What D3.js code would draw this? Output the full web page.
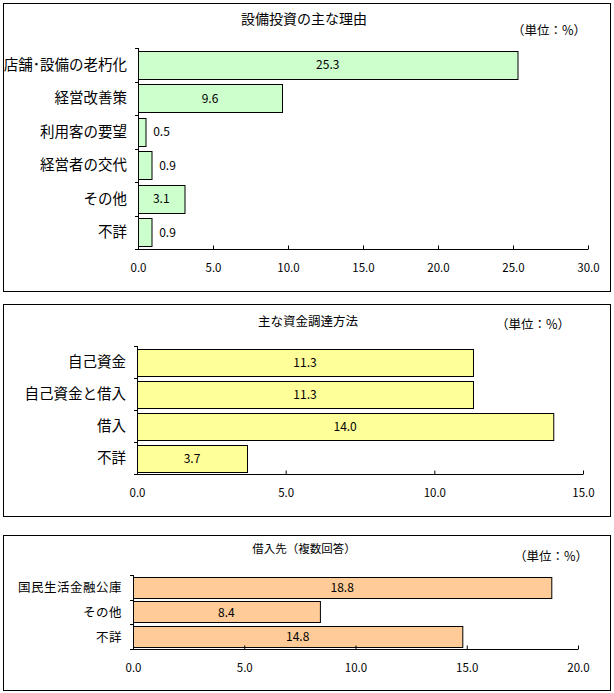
<!DOCTYPE html>
<html>
<head>
<meta charset="utf-8">
<script src="https://cdn.jsdelivr.net/npm/d3@7"></script>
<style>
  body { margin: 0; background: #fff; }
  text { font-family: "Noto Sans CJK JP", "Noto Sans", sans-serif; font-weight: 400; fill: #000; }
</style>
</head>
<body>
<svg id="chart" width="614" height="693"></svg>
<script>
// 設備投資の主な理由
var reasonCats = ["店舗･設備の老朽化", "経営改善策", "利用客の要望", "経営者の交代", "その他", "不詳"];
var reasonVals = [25.3, 9.6, 0.5, 0.9, 3.1, 0.9];
var reasonTicks = [0, 5, 10, 15, 20, 25, 30];

// 主な資金調達方法
var fundCats = ["自己資金", "自己資金と借入", "借入", "不詳"];
var fundVals = [11.3, 11.3, 14.0, 3.7];
var fundTicks = [0, 5, 10, 15];

// 借入先（複数回答）
var lenderCats = ["国民生活金融公庫", "その他", "不詳"];
var lenderVals = [18.8, 8.4, 14.8];
var lenderTicks = [0, 5, 10, 15, 20];

var svg = d3.select("#chart");

function panel(opt) {
  var g = svg.append("g");
  // frame
  g.append("rect")
    .attr("x", 3.5).attr("y", opt.box[0] + 0.5)
    .attr("width", 607).attr("height", opt.box[1] - opt.box[0])
    .attr("fill", "none").attr("stroke", "#000").attr("stroke-width", 1);

  g.append("text")
    .attr("x", opt.titleX).attr("y", opt.titleY)
    .attr("text-anchor", "middle")
    .style("font-size", opt.titleSize + "px")
    .text(opt.title);

  g.append("text")
    .attr("x", opt.unitX).attr("y", opt.unitY)
    .style("font-size", "12.5px")
    .text("（単位：%）");

  var x = d3.scaleLinear().domain([0, opt.max]).range([opt.x0, opt.x1]);
  var y = d3.scaleBand().domain(opt.cats).range([opt.top, opt.bottom])
    .paddingInner(opt.pad).paddingOuter(opt.pad / 2);

  // bars
  g.selectAll("rect.bar")
    .data(opt.vals)
    .join("rect")
    .attr("class", "bar")
    .attr("x", x(0) + 0.5)
    .attr("y", function (d, i) { return Math.round(y(opt.cats[i])) + 0.5; })
    .attr("width", function (d) { return x(d) - x(0); })
    .attr("height", Math.round(y.bandwidth()))
    .attr("fill", opt.color)
    .attr("stroke", "#000")
    .attr("stroke-width", 1);

  // value labels
  g.selectAll("text.val")
    .data(opt.vals)
    .join("text")
    .attr("class", "val")
    .attr("x", function (d) {
      var w = x(d) - x(0);
      return w < 20 ? x(d) + 16 : x(0) + w / 2;
    })
    .attr("y", function (d, i) { return y(opt.cats[i]) + y.bandwidth() / 2 + 4.5; })
    .attr("text-anchor", "middle")
    .style("font-size", "12px")
    .text(function (d) { return d.toFixed(1); });

  // category labels
  g.selectAll("text.cat")
    .data(opt.cats)
    .join("text")
    .attr("class", "cat")
    .attr("x", opt.x0 - 11)
    .attr("y", function (d) { return y(d) + y.bandwidth() / 2 + 5; })
    .attr("text-anchor", "end")
    .style("font-size", opt.catSize + "px")
    .style("letter-spacing", opt.catSpacing + "px")
    .text(function (d) { return d; });

  // y axis with ticks at band edges
  var edges = opt.cats.map(function (c) { return y(c) - y.step() * opt.pad / 2; });
  edges.push(opt.bottom);
  g.append("line")
    .attr("x1", x(0) + 0.5).attr("x2", x(0) + 0.5)
    .attr("y1", opt.top).attr("y2", opt.bottom)
    .attr("stroke", "#000");
  g.selectAll("line.yt")
    .data(edges)
    .join("line")
    .attr("class", "yt")
    .attr("x1", x(0) - 3).attr("x2", x(0))
    .attr("y1", function (d) { return Math.round(d) + 0.5; })
    .attr("y2", function (d) { return Math.round(d) + 0.5; })
    .attr("stroke", "#000");

  // x axis
  var xa = d3.axisBottom(x).tickValues(opt.ticks).tickSize(-4).tickPadding(14)
    .tickFormat(d3.format(".1f"));
  var ax = g.append("g")
    .attr("transform", "translate(0," + (Math.round(opt.bottom) + 0.5) + ")")
    .call(xa);
  ax.select(".domain").attr("d", "M" + x(0) + ",0H" + x(opt.max));
  ax.selectAll("text").style("font-size", "11.5px").attr("fill", "#000");
  ax.selectAll("line").attr("stroke", "#000");
}

panel({
  box: [3, 291], title: "設備投資の主な理由", titleX: 304, titleY: 24, titleSize: 14,
  unitX: 512, unitY: 35,
  cats: reasonCats, vals: reasonVals, ticks: reasonTicks, max: 30,
  x0: 138, x1: 588, top: 48, bottom: 249, pad: 0.17,
  color: "#CCFFCC", catSize: 14.5, catSpacing: 0
});

panel({
  box: [304, 516], title: "主な資金調達方法", titleX: 308, titleY: 326, titleSize: 12.5,
  unitX: 496, unitY: 329,
  cats: fundCats, vals: fundVals, ticks: fundTicks, max: 15,
  x0: 137, x1: 583, top: 346, bottom: 474, pad: 0.17,
  color: "#FFFF99", catSize: 14.5, catSpacing: 0
});

panel({
  box: [535, 690], title: "借入先（複数回答）", titleX: 304, titleY: 553, titleSize: 11.5,
  unitX: 514, unitY: 561,
  cats: lenderCats, vals: lenderVals, ticks: lenderTicks, max: 20,
  x0: 133, x1: 578, top: 575, bottom: 649, pad: 0.14,
  color: "#FFCC99", catSize: 12.5, catSpacing: 0.5
});
</script>
</body>
</html>
